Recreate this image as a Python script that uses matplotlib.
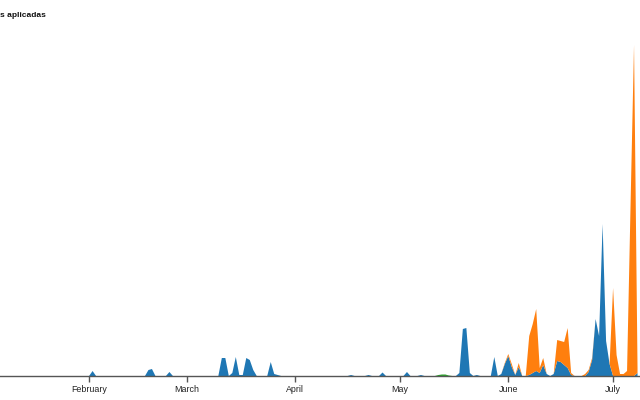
import matplotlib
matplotlib.use("Agg")
import matplotlib.pyplot as plt
import pandas as pd

# daily doses (thousands), only non-zero days listed
blue_days = ['2021-02-02', '2021-02-18', '2021-02-19', '2021-02-24',
             '2021-03-11', '2021-03-12', '2021-03-14', '2021-03-15', '2021-03-16',
             '2021-03-17', '2021-03-18', '2021-03-19', '2021-03-20',
             '2021-03-25', '2021-03-26', '2021-03-27',
             '2021-04-17', '2021-04-22', '2021-04-26', '2021-05-03', '2021-05-07',
             '2021-05-18', '2021-05-19', '2021-05-20', '2021-05-21', '2021-05-23',
             '2021-05-28', '2021-05-30', '2021-05-31', '2021-06-01', '2021-06-02',
             '2021-06-03', '2021-06-04', '2021-06-07', '2021-06-08', '2021-06-09',
             '2021-06-10', '2021-06-11', '2021-06-12', '2021-06-14', '2021-06-15',
             '2021-06-16', '2021-06-17', '2021-06-18', '2021-06-19',
             '2021-06-24', '2021-06-25', '2021-06-26', '2021-06-27', '2021-06-28',
             '2021-06-29', '2021-06-30', '2021-07-08']
blue_vals = [5, 6, 7, 4,
             18, 18, 3, 19, 1,
             1, 18, 16, 6,
             14, 2, 1,
             1, 1, 3.5, 4, 1,
             3, 47, 48, 3, 1,
             19, 2, 12, 20, 9,
             1, 9, 1, 3, 5,
             3, 11, 2, 2, 15,
             14, 11, 8, 1,
             4, 16, 57, 40, 152,
             35, 12, 3]

orange_days = ['2021-05-31', '2021-06-01', '2021-06-02', '2021-06-04',
               '2021-06-07', '2021-06-08', '2021-06-09', '2021-06-10', '2021-06-11',
               '2021-06-15', '2021-06-16', '2021-06-17', '2021-06-18', '2021-06-19',
               '2021-06-23', '2021-06-24', '2021-06-25',
               '2021-07-01', '2021-07-02', '2021-07-03', '2021-07-04', '2021-07-05',
               '2021-07-06', '2021-07-07', '2021-07-08']
orange_vals = [1, 2, 3, 4,
               39, 49, 62, 5, 7,
               21, 21, 23, 40, 2,
               2, 2, 2,
               88, 21, 2, 2, 5,
               170, 331, 5]

green_days = ['2021-05-12', '2021-05-13', '2021-05-14', '2021-05-15']
green_vals = [1, 1.5, 1.5, 0.5]

months = ['2021-02-01', '2021-03-01', '2021-04-01', '2021-05-01', '2021-06-01', '2021-07-01']
month_labels = ['February', 'March', 'April', 'May', 'June', 'July']

dates = pd.date_range('2021-01-06', '2021-07-08', freq='D')


def daily(days, vals):
    s = pd.Series(0.0, index=dates)
    s[pd.to_datetime(days)] = vals
    return s.values


blue = daily(blue_days, blue_vals)
orange = daily(orange_days, orange_vals)
green = daily(green_days, green_vals)

plt.rcParams['font.family'] = ['Liberation Sans', 'DejaVu Sans']

fig = plt.figure(figsize=(6.4, 4.0), dpi=100)
ax = fig.add_axes([0, 24 / 400, 1, 376 / 400])

ax.stackplot(dates, blue, orange, green,
             colors=['#1f77b4', '#ff7f0e', '#2ca02c'], linewidth=0)

ax.set_xlim(pd.Timestamp('2021-01-06 12:00'), pd.Timestamp('2021-07-08 17:00'))
ax.set_ylim(0, 376)

for side in ['left', 'right', 'top']:
    ax.spines[side].set_visible(False)
ax.spines['bottom'].set_color('#555555')
ax.spines['bottom'].set_linewidth(1)
ax.set_yticks([])
ax.set_xticks(pd.to_datetime(months))
ax.set_xticklabels(month_labels)
ax.tick_params(axis='x', length=4, width=1, color='#555555', pad=2.5,
               labelsize=6.4, labelcolor='#222222')
ax.patch.set_alpha(0)

# title is cropped at the left edge in the reference, only this part shows
fig.text(0.0, 0.962, 's aplicadas', fontsize=6.0, fontweight='bold',
         ha='left', va='center', color='#111111')

fig.savefig('out.png', dpi=100)
